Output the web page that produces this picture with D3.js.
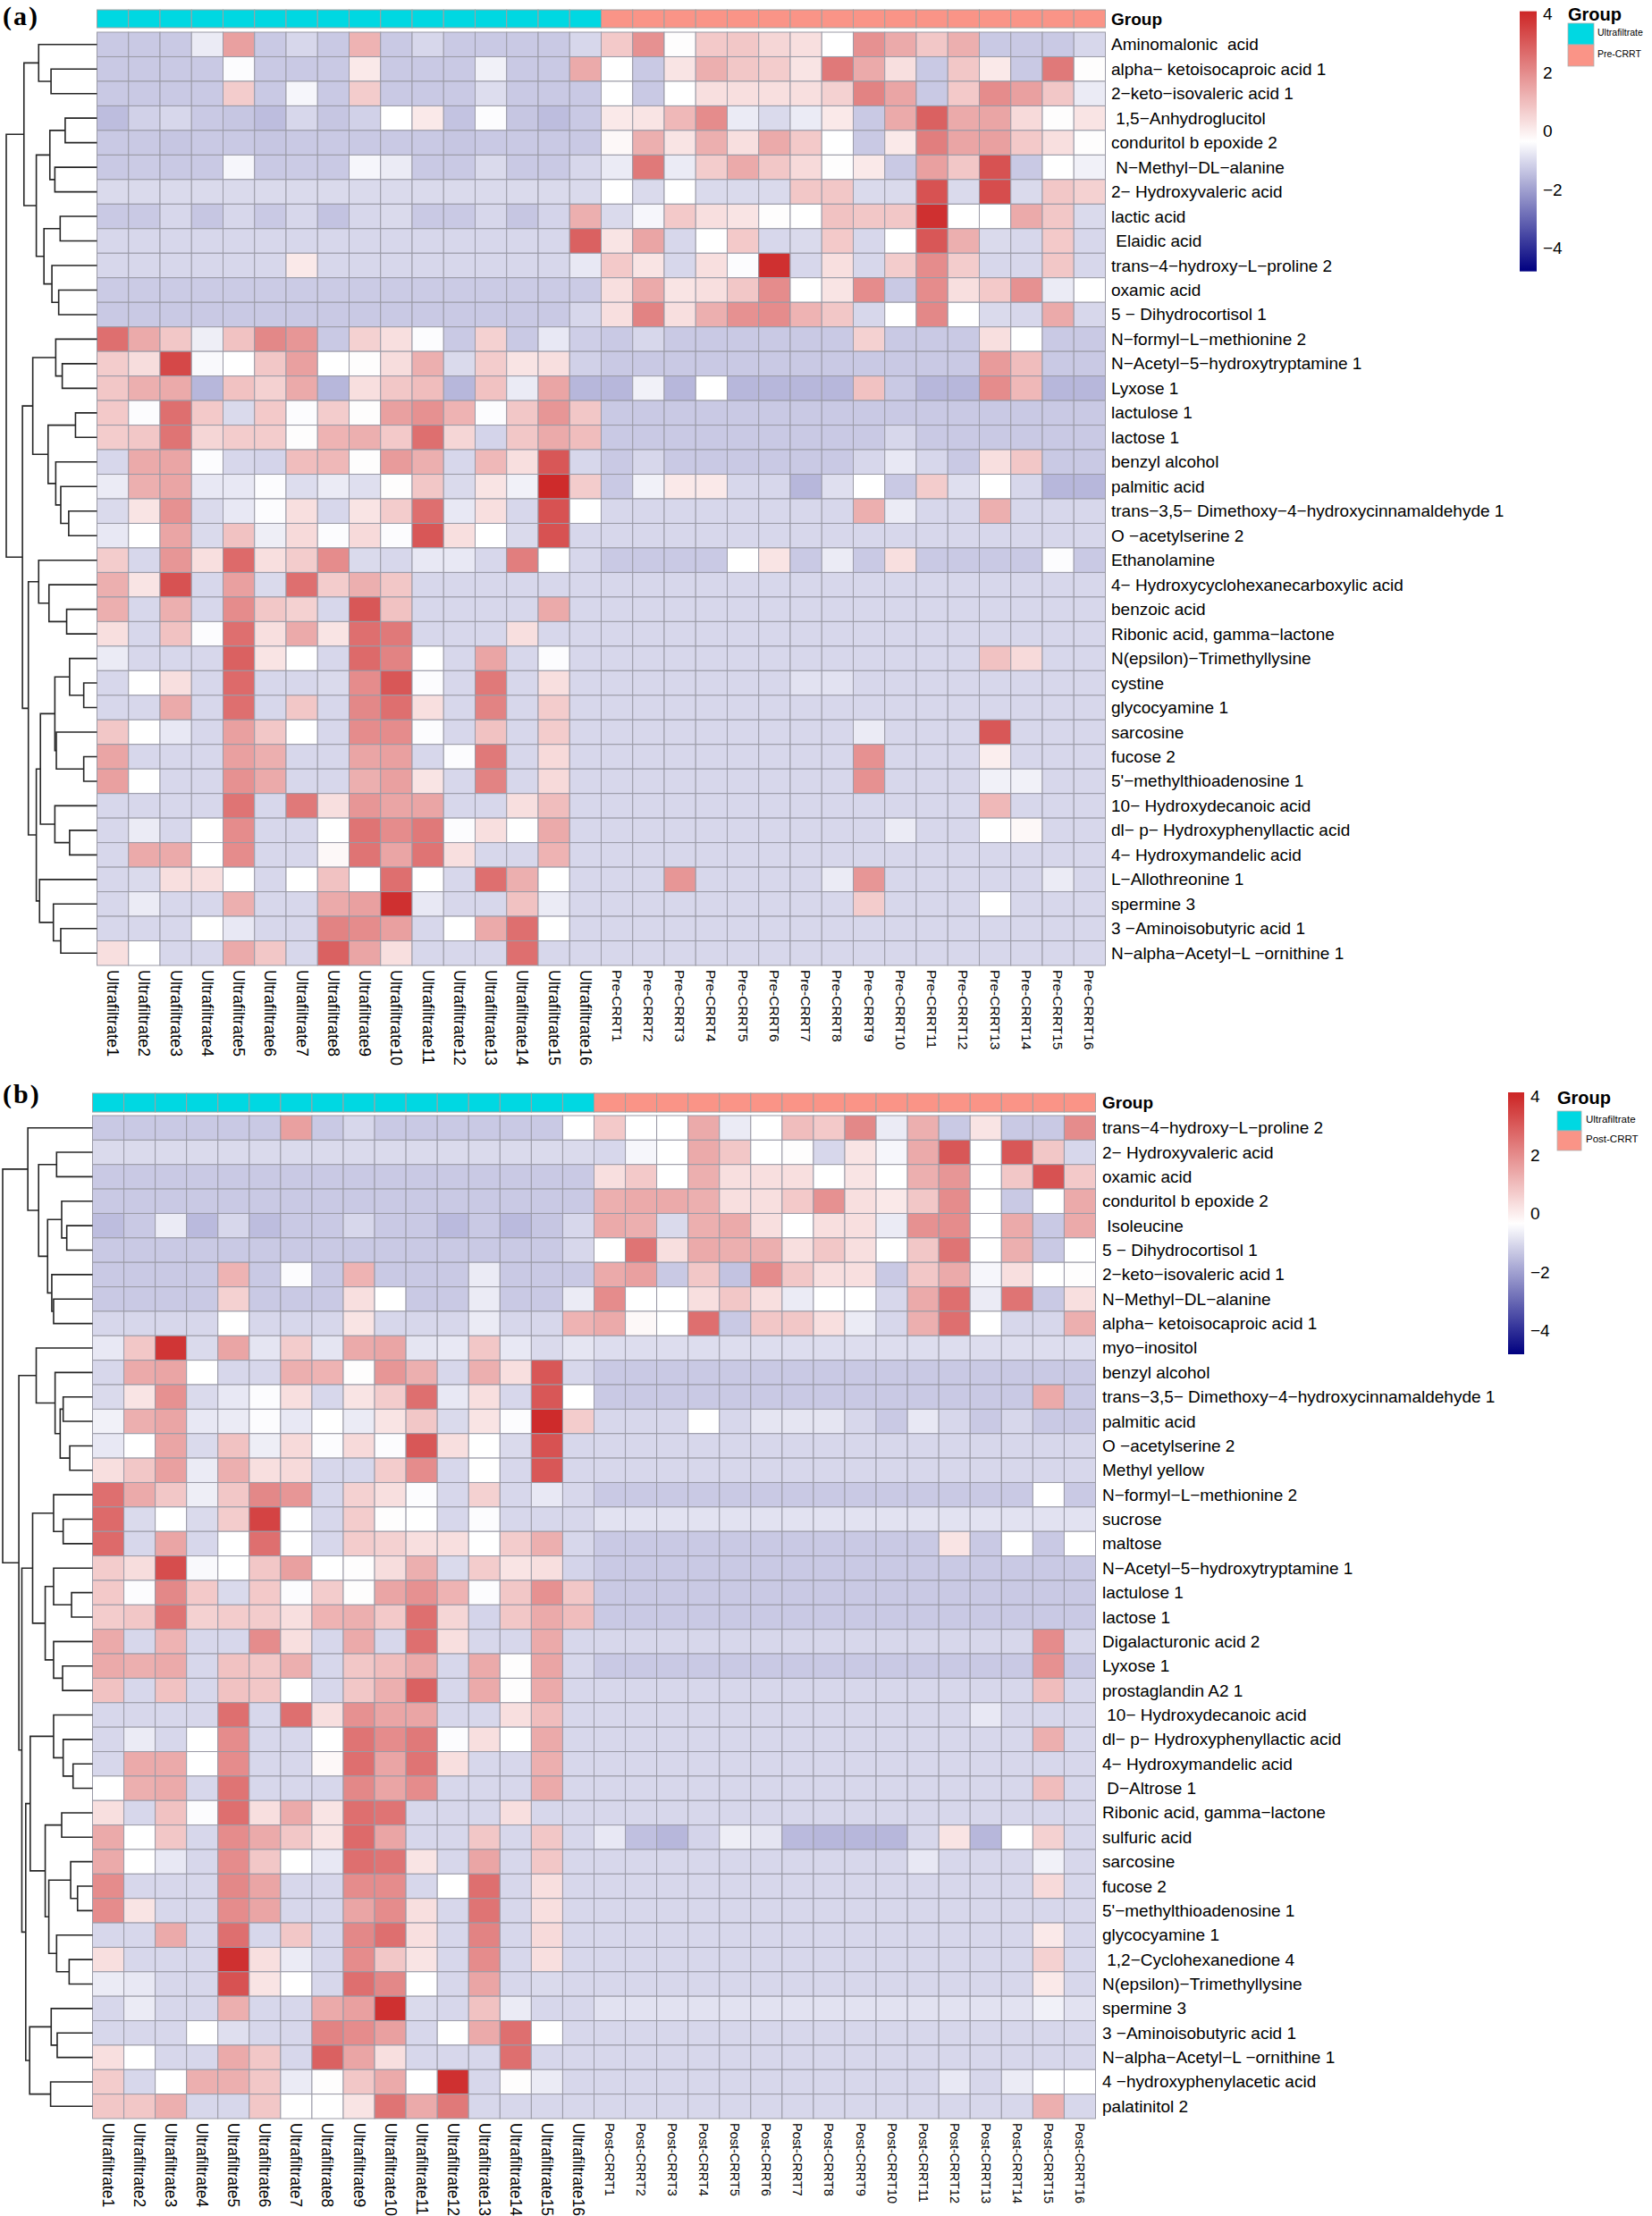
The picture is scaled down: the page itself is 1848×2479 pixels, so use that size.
<!DOCTYPE html>
<html><head><meta charset="utf-8">
<script src="https://cdn.jsdelivr.net/npm/d3@7"></script>
<style>
body{margin:0;background:#fff}
text{font-family:"Liberation Sans",Arial,sans-serif;white-space:pre}
</style></head>
<body><svg id="chart" width="1848" height="2479"></svg>
<script>
// ---------------- DATA ----------------
const ufNames = ["Ultrafiltrate1","Ultrafiltrate2","Ultrafiltrate3","Ultrafiltrate4","Ultrafiltrate5","Ultrafiltrate6","Ultrafiltrate7","Ultrafiltrate8","Ultrafiltrate9","Ultrafiltrate10","Ultrafiltrate11","Ultrafiltrate12","Ultrafiltrate13","Ultrafiltrate14","Ultrafiltrate15","Ultrafiltrate16"];
const preNames = ["Pre-CRRT1","Pre-CRRT2","Pre-CRRT3","Pre-CRRT4","Pre-CRRT5","Pre-CRRT6","Pre-CRRT7","Pre-CRRT8","Pre-CRRT9","Pre-CRRT10","Pre-CRRT11","Pre-CRRT12","Pre-CRRT13","Pre-CRRT14","Pre-CRRT15","Pre-CRRT16"];
const postNames = ["Post-CRRT1","Post-CRRT2","Post-CRRT3","Post-CRRT4","Post-CRRT5","Post-CRRT6","Post-CRRT7","Post-CRRT8","Post-CRRT9","Post-CRRT10","Post-CRRT11","Post-CRRT12","Post-CRRT13","Post-CRRT14","Post-CRRT15","Post-CRRT16"];

const rowsA = ["Aminomalonic  acid","alpha− ketoisocaproic acid 1","2−keto−isovaleric acid 1"," 1,5−Anhydroglucitol","conduritol b epoxide 2"," N−Methyl−DL−alanine","2− Hydroxyvaleric acid","lactic acid"," Elaidic acid","trans−4−hydroxy−L−proline 2","oxamic acid","5 − Dihydrocortisol 1","N−formyl−L−methionine 2","N−Acetyl−5−hydroxytryptamine 1","Lyxose 1","lactulose 1","lactose 1","benzyl alcohol","palmitic acid","trans−3,5− Dimethoxy−4−hydroxycinnamaldehyde 1","O −acetylserine 2","Ethanolamine","4− Hydroxycyclohexanecarboxylic acid","benzoic acid","Ribonic acid, gamma−lactone","N(epsilon)−Trimethyllysine","cystine","glycocyamine 1","sarcosine","fucose 2","5'−methylthioadenosine 1","10− Hydroxydecanoic acid","dl− p− Hydroxyphenyllactic acid","4− Hydroxymandelic acid","L−Allothreonine 1","spermine 3","3 −Aminoisobutyric acid 1","N−alpha−Acetyl−L −ornithine 1"];

const rowsB = ["trans−4−hydroxy−L−proline 2","2− Hydroxyvaleric acid","oxamic acid","conduritol b epoxide 2"," Isoleucine","5 − Dihydrocortisol 1","2−keto−isovaleric acid 1","N−Methyl−DL−alanine","alpha− ketoisocaproic acid 1","myo−inositol","benzyl alcohol","trans−3,5− Dimethoxy−4−hydroxycinnamaldehyde 1","palmitic acid","O −acetylserine 2","Methyl yellow","N−formyl−L−methionine 2","sucrose","maltose","N−Acetyl−5−hydroxytryptamine 1","lactulose 1","lactose 1","Digalacturonic acid 2","Lyxose 1","prostaglandin A2 1"," 10− Hydroxydecanoic acid","dl− p− Hydroxyphenyllactic acid","4− Hydroxymandelic acid"," D−Altrose 1","Ribonic acid, gamma−lactone","sulfuric acid","sarcosine","fucose 2","5'−methylthioadenosine 1","glycocyamine 1"," 1,2−Cyclohexanedione 4","N(epsilon)−Trimethyllysine","spermine 3","3 −Aminoisobutyric acid 1","N−alpha−Acetyl−L −ornithine 1","4 −hydroxyphenylacetic acid","palatinitol 2"];

// panel (a) values, Ultrafiltrate columns
const ufA = [
[-1.3,-1.3,-1.3,-0.7,1.6,-1.3,-1.05,-1.3,1.2,-1.3,-1.05,-1.3,-1.3,-1.3,-1.3,-1.05],
[-1.3,-1.3,-1.3,-1.3,-0.4,-1.3,-1.3,-1.3,0.1,-1.3,-1.3,-1.3,-0.6,-1.3,-1.3,1.4],
[-1.3,-1.3,-1.3,-1.3,0.7,-1.3,-0.5,-1.3,0.7,-1.3,-1.3,-1.3,-0.95,-1.3,-1.3,-1.3],
[-1.5,-1.15,-1.05,-1.3,-1.35,-1.5,-1.05,-1.35,-1.15,-0.35,0.1,-1.4,-0.4,-1.35,-1.5,-1.3],
[-1.3,-1.3,-1.35,-1.3,-1.3,-1.35,-1.3,-1.3,-1.3,-1.3,-1.3,-1.35,-1.3,-1.3,-1.3,-1.3],
[-1.3,-1.25,-1.3,-1.3,-0.5,-1.3,-1.25,-1.3,-0.5,-0.7,-1.3,-1.3,-1.0,-1.3,-1.3,-1.05],
[-1.0,-1.0,-1.0,-1.0,-1.0,-1.0,-1.0,-1.0,-1.0,-1.0,-1.0,-1.0,-1.0,-1.0,-1.0,-1.0],
[-1.3,-1.3,-1.05,-1.35,-1.05,-1.3,-1.05,-1.4,-1.05,-1.0,-1.3,-1.3,-1.05,-1.35,-1.1,1.3],
[-1.05,-1.05,-1.05,-1.05,-1.05,-1.05,-1.05,-1.05,-1.05,-1.05,-1.05,-1.05,-1.05,-1.05,-1.05,2.9],
[-1.05,-1.05,-1.05,-1.05,-1.05,-1.05,0.1,-1.05,-1.05,-1.05,-1.05,-1.05,-1.05,-1.05,-1.05,-0.75],
[-1.25,-1.25,-1.25,-1.25,-1.25,-1.25,-1.25,-1.25,-1.25,-1.25,-1.25,-1.25,-1.25,-1.25,-1.25,-1.25],
[-1.3,-1.3,-1.3,-1.3,-1.3,-1.3,-1.3,-1.3,-1.3,-1.3,-1.3,-1.3,-1.3,-1.3,-1.3,-1.05],
[2.6,1.4,0.8,-0.65,0.9,2.1,1.8,-1.3,0.6,0.3,-0.4,-1.3,0.6,-1.3,-0.75,-1.2],
[0.7,0.35,3.4,-0.45,-0.35,0.8,1.6,-0.35,-0.3,0.35,1.3,-1.0,0.7,0.2,0.3,-1.15],
[0.8,1.3,1.4,-1.6,0.9,0.6,1.4,-1.6,0.3,0.8,1.0,-1.6,0.9,-0.7,1.5,-1.6],
[0.75,-0.4,2.6,0.75,-1.0,0.75,-0.4,0.7,-0.3,1.6,1.9,1.2,-0.4,0.8,1.8,0.8],
[0.7,0.8,2.5,0.5,0.7,0.7,-0.3,1.2,1.3,0.75,2.6,0.5,-1.1,0.8,1.4,1.0],
[-1.05,1.4,1.5,-0.4,-1.05,-1.1,1.0,1.1,-0.3,1.7,1.3,-1.05,1.1,0.3,3.1,-1.05],
[-0.7,1.3,1.5,-0.75,-0.75,-0.4,-0.95,-0.7,-0.9,-0.3,0.8,-1.0,0.2,-0.6,4.0,0.7],
[-1.0,0.2,1.9,-1.0,-0.75,-0.4,0.3,-1.05,0.2,0.7,2.6,-0.75,0.3,-1.05,3.2,-0.35],
[-0.75,-0.35,1.5,-1.0,0.9,-0.65,0.4,-0.4,0.4,-0.4,3.1,0.3,-0.35,-1.0,3.2,-1.05],
[0.7,-1.05,1.8,0.3,2.7,0.3,0.7,2.0,-1.0,-1.05,-0.75,-0.75,-1.05,2.3,-0.35,-1.05],
[1.3,0.2,3.2,-1.05,1.6,-1.0,2.6,0.7,1.3,0.8,-1.05,-1.05,-1.05,-1.05,-1.05,-1.05],
[1.3,-1.05,1.3,-1.05,2.0,0.8,0.6,-1.05,3.1,0.9,-1.05,-1.05,-1.05,-1.05,1.4,-1.05],
[0.3,-1.05,0.9,-0.4,2.6,0.3,1.4,0.2,2.6,2.4,-1.05,-1.05,-1.05,0.3,-1.05,-1.05],
[-0.7,-1.05,-1.05,-1.05,2.9,0.2,-0.35,-1.05,2.7,2.2,-0.35,-1.05,1.5,-1.05,-0.4,-1.05],
[-1.05,-0.35,0.3,-1.05,2.7,-1.05,-1.05,-1.0,2.0,3.1,-0.4,-1.05,2.4,-1.05,0.3,-1.05],
[-1.05,-1.05,1.4,-1.05,2.6,-1.05,0.8,-1.05,2.1,2.6,0.3,-1.05,2.2,-1.05,0.7,-1.05],
[0.8,-0.35,-0.75,-1.05,1.6,0.8,-0.35,-1.05,2.0,2.0,-0.4,-1.05,0.9,-1.05,0.7,-1.05],
[1.5,-1.05,-1.05,-1.05,1.6,1.3,-1.05,-1.05,1.5,1.6,-1.05,-0.4,2.4,-1.05,0.4,-1.05],
[1.6,-0.35,-1.05,-1.05,1.9,1.4,-1.05,-1.05,1.3,1.6,0.2,-1.05,2.2,-1.05,0.4,-1.05],
[-1.05,-1.05,-1.05,-1.05,2.5,-1.05,2.4,0.3,1.8,1.5,1.5,-1.05,-1.05,0.3,1.0,-1.05],
[-1.05,-0.7,-1.05,-0.35,2.0,-1.05,-1.05,-0.35,2.5,2.0,2.4,-0.4,0.3,-0.35,1.4,-1.05],
[-1.05,1.4,1.4,-0.35,2.0,-1.05,-1.05,-0.2,2.5,1.5,2.5,0.3,-1.05,-1.05,1.2,-1.05],
[-1.05,-1.0,0.3,0.3,-0.35,-1.05,-0.35,0.9,-0.35,2.6,-0.35,-1.05,2.6,1.3,-0.35,-1.05],
[-1.05,-0.7,-1.05,-1.05,1.3,-1.05,-1.05,1.4,1.6,3.9,-0.75,-1.05,-1.05,0.9,-0.7,-1.05],
[-1.05,-1.05,-1.05,-0.35,-0.75,-1.05,-1.05,2.2,2.0,1.6,-1.05,-0.35,1.4,2.6,-0.35,-1.05],
[0.3,-0.35,-1.05,-1.05,1.4,0.8,-1.05,2.9,1.5,0.3,-1.05,-1.05,-1.05,2.6,-1.05,-1.05]
];

// panel (a) values, Pre-CRRT columns
const preA = [
[0.75,1.9,-0.3,0.75,0.8,0.5,0.3,-0.35,1.9,1.4,0.8,1.3,-1.3,-1.3,-1.3,-1.05],
[-0.35,-1.3,0.2,1.3,0.8,0.7,0.2,2.4,1.4,0.3,-1.3,0.8,0.1,-1.3,2.4,-0.3],
[-0.35,-1.3,-0.35,0.3,0.3,0.3,0.3,0.6,2.2,1.5,-1.3,0.75,2.0,1.6,0.8,-0.7],
[0.1,0.2,1.1,2.0,-0.7,-1.0,-0.7,0.1,-1.3,1.4,2.9,1.4,1.5,0.4,-0.3,0.2],
[-0.2,1.3,0.2,1.3,0.3,1.4,0.75,-0.35,-1.3,0.1,2.3,1.5,1.6,0.75,0.3,-0.3],
[-0.7,2.4,-0.7,0.7,1.4,0.8,0.4,-0.3,0.1,-1.3,1.6,0.8,3.2,-1.3,-0.35,-0.6],
[-0.35,-1.0,-0.35,-1.0,-1.0,-1.0,0.8,0.8,-1.0,-1.0,3.2,-1.0,3.3,-1.0,0.8,0.6],
[-1.0,-0.5,0.75,0.3,0.2,-0.3,-0.35,0.9,0.8,0.8,3.9,-0.35,-0.35,1.4,0.8,-1.0],
[0.2,1.5,-1.05,-0.35,0.75,-1.05,-1.0,0.75,-1.05,-0.35,3.1,1.3,-1.0,-1.05,0.75,-1.05],
[0.75,0.2,-1.05,0.3,-0.4,3.9,-1.05,0.3,-1.05,0.7,2.0,0.7,-1.05,-1.05,0.8,-1.05],
[0.3,1.4,0.2,0.3,0.8,2.0,-0.35,0.2,2.0,-1.3,2.0,0.3,0.75,1.9,-0.7,-0.35],
[0.3,2.2,0.3,1.3,1.9,2.0,1.2,0.8,-1.05,-0.35,2.1,-0.35,-1.0,-1.05,1.4,-1.05],
[-1.3,-1.05,-1.3,-1.3,-1.3,-1.3,-1.3,-1.3,0.6,-1.3,-1.3,-1.3,0.3,-0.35,-1.3,-1.3],
[-1.3,-1.3,-1.3,-1.3,-1.3,-1.3,-1.3,-1.3,-1.3,-1.3,-1.3,-1.3,1.7,1.0,-1.3,-1.3],
[-1.6,-0.6,-1.6,-0.35,-1.6,-1.6,-1.6,-1.6,0.9,-1.3,-1.6,-1.6,2.0,1.1,-1.6,-1.6],
[-1.3,-1.3,-1.3,-1.3,-1.3,-1.3,-1.3,-1.3,-1.3,-1.3,-1.3,-1.3,-1.3,-1.3,-1.3,-1.3],
[-1.3,-1.3,-1.3,-1.3,-1.3,-1.3,-1.3,-1.3,-1.3,-1.05,-1.3,-1.3,-1.3,-1.3,-1.3,-1.3],
[-1.3,-1.05,-1.3,-1.3,-1.3,-1.3,-1.3,-1.3,-1.05,-0.75,-1.05,-1.3,0.3,0.8,-1.3,-1.3],
[-1.3,-0.6,0.1,0.1,-1.05,-1.05,-1.6,-0.9,-0.35,-1.3,0.7,-0.9,-0.35,-1.05,-1.6,-1.6],
[-1.05,-1.05,-1.05,-1.05,-1.05,-1.05,-1.05,-1.05,1.3,-0.7,-1.05,-1.05,1.3,-1.05,-1.05,-1.05],
[-1.05,-1.05,-1.05,-1.05,-1.05,-1.05,-1.05,-1.05,-1.05,-1.05,-1.05,-1.05,-1.05,-1.05,-1.05,-1.05],
[-1.3,-1.3,-1.3,-1.3,-0.35,0.2,-1.3,-0.7,-1.3,0.3,-1.3,-1.3,-1.3,-1.3,-0.4,-1.3],
[-1.05,-1.05,-1.05,-1.05,-1.05,-1.05,-1.05,-1.05,-1.05,-1.05,-1.05,-1.05,-1.05,-1.05,-1.05,-1.05],
[-1.05,-1.05,-1.05,-1.05,-1.05,-1.05,-1.05,-1.05,-1.05,-1.05,-1.05,-1.05,-1.05,-1.05,-1.05,-1.05],
[-1.05,-1.05,-1.05,-1.05,-1.05,-1.05,-1.05,-1.05,-1.05,-1.05,-1.05,-1.05,-1.05,-1.05,-1.05,-1.05],
[-1.05,-1.05,-1.05,-1.05,-1.05,-1.05,-1.05,-1.05,-1.05,-1.05,-1.05,-1.05,0.9,0.4,-1.05,-1.05],
[-1.05,-1.05,-1.05,-1.05,-1.05,-1.05,-0.85,-0.85,-1.05,-1.05,-1.05,-1.05,-1.05,-1.05,-1.05,-1.05],
[-1.05,-1.05,-1.05,-1.05,-1.05,-1.05,-1.05,-1.05,-1.05,-1.05,-1.05,-1.05,-1.05,-1.05,-1.05,-1.05],
[-1.05,-1.05,-1.05,-1.05,-1.05,-1.05,-1.05,-1.05,-0.7,-1.05,-1.05,-1.05,3.1,-1.05,-1.05,-1.05],
[-1.05,-1.05,-1.05,-1.05,-1.05,-1.05,-1.05,-1.05,1.9,-1.05,-1.05,-1.05,0.0,-1.05,-1.05,-1.05],
[-1.05,-1.05,-1.05,-1.05,-1.05,-1.05,-1.05,-1.05,1.9,-1.05,-1.05,-1.05,-0.6,-0.6,-1.05,-1.05],
[-1.05,-1.05,-1.05,-1.05,-1.05,-1.05,-1.05,-1.05,-1.05,-1.05,-1.05,-1.05,1.1,-1.05,-1.05,-1.05],
[-1.05,-1.05,-1.05,-1.05,-1.05,-1.05,-1.05,-1.05,-1.05,-0.7,-1.05,-1.05,-0.35,-0.2,-1.05,-1.05],
[-1.05,-1.05,-1.05,-1.05,-1.05,-1.05,-1.05,-1.05,-1.05,-1.05,-1.05,-1.05,-1.05,-1.05,-1.05,-1.05],
[-1.05,-1.05,1.8,-1.05,-1.05,-1.05,-1.05,-0.7,1.8,-1.05,-1.05,-1.05,-1.05,-1.05,-0.7,-1.05],
[-1.05,-1.05,-1.05,-1.05,-1.05,-1.05,-1.05,-1.05,0.7,-1.05,-1.05,-1.05,-0.35,-1.05,-1.05,-1.05],
[-1.05,-1.05,-1.05,-1.05,-1.05,-1.05,-1.05,-1.05,-1.05,-1.05,-1.05,-1.05,-1.05,-1.05,-1.05,-1.05],
[-1.05,-1.05,-1.05,-1.05,-1.05,-1.05,-1.05,-1.05,-1.05,-1.05,-1.05,-1.05,-1.05,-1.05,-1.05,-1.05]
];

// panel (b) values, Ultrafiltrate columns
const ufB = [
[-1.3,-1.3,-1.3,-1.3,-1.3,-1.3,1.6,-1.3,-1.05,-1.3,-1.3,-1.3,-1.3,-1.3,-1.3,-0.35],
[-1.0,-1.0,-1.0,-1.0,-1.0,-1.0,-1.0,-1.0,-1.0,-1.0,-1.0,-1.0,-1.0,-1.0,-1.0,-1.0],
[-1.3,-1.3,-1.3,-1.3,-1.3,-1.3,-1.3,-1.3,-1.3,-1.3,-1.3,-1.3,-1.3,-1.3,-1.3,-1.3],
[-1.3,-1.3,-1.3,-1.3,-1.3,-1.3,-1.3,-1.3,-1.3,-1.3,-1.3,-1.3,-1.3,-1.3,-1.3,-1.3],
[-1.5,-1.3,-0.7,-1.55,-1.05,-1.5,-1.3,-1.3,-1.05,-1.3,-1.3,-1.55,-1.3,-1.55,-1.35,-1.05],
[-1.3,-1.3,-1.3,-1.3,-1.3,-1.3,-1.3,-1.3,-1.3,-1.3,-1.3,-1.3,-1.3,-1.3,-1.3,-1.05],
[-1.3,-1.3,-1.3,-1.3,1.2,-1.3,-0.4,-1.3,1.2,-1.3,-1.3,-1.3,-0.7,-1.3,-1.3,-1.3],
[-1.3,-1.3,-1.3,-1.3,0.6,-1.3,-1.3,-1.3,0.3,-0.35,-1.3,-1.3,-0.7,-1.3,-1.3,-0.7],
[-1.05,-1.05,-1.05,-1.05,-0.35,-1.05,-1.05,-1.05,0.2,-1.05,-1.05,-1.05,-0.7,-1.05,-1.05,1.2],
[-0.75,0.8,3.8,-1.0,1.5,-0.8,0.7,-0.8,1.4,1.5,-0.8,-0.75,0.8,-0.75,-1.0,-0.8],
[-1.05,1.4,1.5,-0.35,-1.05,-1.05,1.3,1.2,-0.3,1.8,1.3,-1.05,1.3,0.3,3.1,-1.05],
[-1.0,0.2,1.9,-1.0,-0.75,-0.4,0.3,-1.05,0.2,0.7,2.6,-0.75,0.3,-1.05,3.1,-0.35],
[-0.6,1.3,1.5,-0.75,-0.7,-0.4,-0.75,-0.35,-0.7,0.2,0.8,-1.0,0.2,-0.4,4.0,0.7],
[-0.75,-0.35,1.5,-1.0,0.9,-0.65,0.4,-0.4,0.4,-0.4,3.1,0.3,-0.35,-1.0,3.2,-1.05],
[0.3,0.8,1.6,-0.7,1.3,0.3,0.4,-1.05,-1.05,0.7,2.0,-1.05,-0.35,-1.05,3.1,-1.05],
[2.6,1.4,0.8,-0.65,0.8,2.1,1.8,-1.05,0.6,0.3,-0.4,-1.05,0.6,-1.05,-0.75,-1.05],
[2.7,-1.0,-0.35,-1.0,0.7,3.5,-0.35,-1.05,0.7,-0.3,-0.35,-1.05,-0.4,-1.05,-1.05,-1.05],
[2.7,-1.05,1.5,-1.05,-0.35,2.6,-0.35,-1.05,0.7,0.6,0.3,0.3,-0.35,0.7,1.3,-1.05],
[0.7,0.35,3.3,-0.45,-0.35,0.8,1.6,-0.35,-0.3,0.35,1.3,-1.0,0.7,0.2,0.3,-1.1],
[0.75,-0.4,2.1,0.75,-1.0,0.75,-0.4,0.7,-0.3,1.5,1.9,1.2,-0.4,0.8,1.9,0.8],
[0.7,0.8,2.5,0.6,0.7,0.7,0.3,1.2,1.3,0.75,2.6,0.5,-1.1,0.8,1.4,1.0],
[1.4,-1.05,1.2,-1.05,-1.05,2.0,0.3,-1.05,1.4,-1.05,2.6,0.3,-1.05,-1.05,1.4,-1.05],
[1.4,1.3,1.4,-1.05,0.9,0.8,1.3,-1.05,0.8,1.0,1.4,-1.05,1.4,-0.3,1.5,-1.05],
[0.9,-1.05,0.9,-1.05,0.9,0.8,-0.35,-1.05,0.8,1.3,2.9,-1.05,1.4,-0.3,1.4,-1.05],
[-1.05,-1.05,-1.05,-1.05,2.6,-1.05,2.6,0.3,1.9,1.5,1.5,-1.05,-1.05,0.3,1.0,-1.05],
[-1.05,-0.7,-1.05,-0.35,2.0,-1.05,-1.05,-0.35,2.5,2.0,2.4,-0.4,0.3,-0.35,1.4,-1.05],
[-1.05,1.4,1.4,-0.35,2.0,-1.05,-1.05,-0.2,2.6,1.5,2.5,0.3,-1.05,-1.05,1.3,-1.05],
[-0.35,1.3,1.4,-1.05,2.5,-1.05,-1.05,-1.05,2.1,1.5,2.0,-1.05,-1.05,-1.05,1.4,-1.05],
[0.3,-1.05,0.9,-0.4,2.6,0.3,1.4,0.2,2.6,2.5,-1.05,-1.05,-1.05,0.3,-1.05,-1.05],
[1.4,-0.35,0.8,-1.05,2.0,1.4,0.8,0.2,2.7,1.5,-1.05,-1.05,0.8,-1.05,0.8,-1.05],
[1.4,-0.35,-0.75,-1.05,2.0,0.8,-0.35,-0.75,2.6,2.5,0.2,-1.05,1.5,-1.05,0.8,-1.05],
[2.0,-1.05,-1.05,-1.05,2.1,1.5,-1.05,-1.05,2.0,2.0,-1.05,-0.35,2.6,-1.05,0.3,-1.05],
[2.0,0.2,-1.05,-1.05,2.0,1.5,-1.05,-1.05,1.5,2.0,0.3,-1.05,2.5,-1.05,0.3,-1.05],
[-1.05,-1.05,1.4,-1.05,2.6,-1.05,0.8,-1.05,2.1,2.6,0.3,-1.05,2.2,-1.05,0.4,-1.05],
[0.3,-1.05,-1.05,-1.05,3.9,0.3,-0.7,-1.05,2.0,0.8,0.2,-1.05,2.0,-1.05,0.3,-1.05],
[-0.7,-0.75,-1.05,-1.05,3.2,0.2,-0.35,-1.05,2.6,2.1,-0.35,-1.05,1.5,-1.05,-1.0,-1.05],
[-1.05,-0.7,-1.05,-1.05,1.3,-1.05,-1.05,1.4,1.6,3.9,-1.0,-1.05,0.9,-0.7,-1.05,-1.05],
[-1.05,-1.05,-1.05,-0.35,-0.9,-1.05,-1.05,2.2,2.0,1.6,-1.05,-0.35,1.4,2.6,-0.35,-1.05],
[0.3,-0.35,-1.05,-1.05,1.4,0.8,-1.05,2.9,1.5,0.3,-1.05,-1.05,-1.05,2.6,-1.05,-1.05],
[0.7,-1.05,-0.35,1.3,1.3,0.8,-0.7,-0.3,0.8,1.4,-0.35,3.9,-1.05,-0.3,-0.7,-1.05],
[0.8,0.8,1.3,-1.05,-1.05,0.8,-0.35,-0.35,0.2,2.5,1.4,2.4,-1.05,-1.05,-1.05,-1.05]
];

// panel (b) values, Post-CRRT columns
const postB = [
[0.75,-0.35,-0.35,1.4,-0.7,-0.35,1.0,0.75,2.1,-0.7,1.3,-1.3,0.2,-1.3,-1.3,2.0],
[-1.05,-0.5,-0.35,1.4,0.8,-0.35,-0.3,-1.05,0.2,-0.5,1.4,3.1,-0.35,3.1,0.8,-1.05],
[0.3,0.75,-0.35,1.3,0.3,0.3,0.3,-0.35,0.2,-0.35,1.3,1.8,-0.35,0.8,3.2,0.75],
[1.3,1.4,1.4,1.3,0.3,0.3,0.75,1.9,0.3,0.1,0.8,2.0,-0.35,-1.3,-0.35,1.4],
[1.4,1.3,-1.0,1.3,1.4,0.3,-0.35,0.3,0.3,-0.7,1.9,2.0,-0.35,1.4,-1.3,1.4],
[-0.35,2.5,0.3,1.4,1.3,1.3,0.3,0.8,0.3,-0.35,0.8,2.5,-0.35,1.3,-1.3,-0.35],
[1.4,1.6,-1.3,0.8,-1.4,2.0,0.8,0.3,0.3,-1.3,0.8,1.4,-0.5,0.3,-0.35,-0.3],
[2.0,-0.35,-0.35,0.3,0.8,0.3,-0.7,-0.35,-0.35,-1.05,1.4,2.6,-0.7,2.5,-1.3,0.3],
[1.4,-0.2,-0.35,2.6,-1.3,0.8,0.8,0.3,-0.7,-1.05,1.3,2.6,-0.35,-1.05,-1.05,1.3],
[-0.95,-0.95,-0.95,-0.95,-0.95,-0.95,-0.95,-0.95,-0.95,-0.95,-0.95,-0.95,-0.95,-0.95,-0.95,-0.95],
[-1.3,-1.3,-1.3,-1.3,-1.3,-1.3,-1.3,-1.3,-1.3,-1.3,-1.3,-1.3,-1.3,-1.3,-1.3,-1.3],
[-1.3,-1.3,-1.3,-1.3,-1.3,-1.3,-1.3,-1.3,-1.3,-1.3,-1.3,-1.3,-1.3,-1.3,1.4,-1.3],
[-1.05,-1.05,-1.05,-0.35,-1.05,-0.8,-0.8,-0.8,-1.05,-1.3,-0.75,-1.05,-1.3,-1.05,-1.3,-1.3],
[-1.05,-1.05,-1.05,-1.05,-1.05,-1.05,-1.05,-1.05,-1.05,-1.05,-1.05,-1.05,-1.05,-1.05,-1.05,-1.05],
[-1.05,-1.05,-1.05,-1.05,-1.05,-1.05,-1.05,-1.05,-1.05,-1.05,-1.05,-1.05,-1.05,-1.05,-1.05,-1.05],
[-1.3,-1.3,-1.3,-1.3,-1.3,-1.3,-1.3,-1.3,-1.3,-1.3,-1.3,-1.3,-1.3,-1.3,-0.35,-1.3],
[-0.85,-0.85,-0.85,-0.85,-0.85,-0.85,-0.85,-0.85,-0.85,-0.85,-0.85,-0.85,-0.85,-0.85,-0.85,-0.85],
[-1.3,-1.3,-1.3,-1.3,-1.3,-1.3,-1.3,-1.3,-1.3,-1.3,-1.3,0.2,-1.3,-0.35,-1.3,-0.35],
[-1.3,-1.3,-1.3,-1.3,-1.3,-1.3,-1.3,-1.3,-1.3,-1.3,-1.3,-1.3,-1.3,-1.3,-1.3,-1.3],
[-1.3,-1.3,-1.3,-1.3,-1.3,-1.3,-1.3,-1.3,-1.3,-1.3,-1.3,-1.3,-1.3,-1.3,-1.3,-1.3],
[-1.3,-1.3,-1.3,-1.3,-1.3,-1.3,-1.3,-1.3,-1.3,-1.3,-1.3,-1.3,-1.3,-1.3,-1.3,-1.3],
[-1.05,-1.05,-1.05,-1.05,-1.05,-1.05,-1.05,-1.05,-1.05,-1.05,-1.05,-1.05,-1.05,-1.05,2.0,-1.05],
[-1.3,-1.3,-1.3,-1.3,-1.3,-1.3,-1.3,-1.3,-1.3,-1.3,-1.3,-1.3,-1.3,-1.3,1.9,-1.3],
[-1.05,-1.05,-1.05,-1.05,-1.05,-1.05,-1.05,-1.05,-1.05,-1.05,-1.05,-1.05,-1.05,-1.05,1.0,-1.05],
[-1.05,-1.05,-1.05,-1.05,-1.05,-1.05,-1.05,-1.05,-1.05,-1.05,-1.05,-1.05,-0.75,-1.05,-1.05,-1.05],
[-1.05,-1.05,-1.05,-1.05,-1.05,-1.05,-1.05,-1.05,-1.05,-1.05,-1.05,-1.05,-1.05,-1.05,1.3,-1.05],
[-1.05,-1.05,-1.05,-1.05,-1.05,-1.05,-1.05,-1.05,-1.05,-1.05,-1.05,-1.05,-1.05,-1.05,-1.05,-1.05],
[-1.05,-1.05,-1.05,-1.05,-1.05,-1.05,-1.05,-1.05,-1.05,-1.05,-1.05,-1.05,-1.05,-1.05,1.0,-1.05],
[-1.05,-1.05,-1.05,-1.05,-1.05,-1.05,-1.05,-1.05,-1.05,-1.05,-1.05,-1.05,-1.05,-1.05,-1.05,-1.05],
[-0.75,-1.45,-1.6,-1.1,-0.65,-0.8,-1.55,-1.6,-1.6,-1.6,-1.05,0.2,-1.6,-0.35,0.6,-1.05],
[-1.05,-1.05,-1.05,-1.05,-1.05,-1.05,-1.05,-1.05,-1.05,-1.05,-0.75,-1.05,-1.05,-1.05,-0.6,-1.05],
[-1.05,-1.05,-1.05,-1.05,-1.05,-1.05,-1.05,-1.05,-1.05,-1.05,-1.05,-1.05,-1.05,-1.05,0.4,-1.05],
[-1.05,-1.05,-1.05,-1.05,-1.05,-1.05,-1.05,-1.05,-1.05,-1.05,-1.05,-1.05,-1.05,-1.05,-1.05,-1.05],
[-1.05,-1.05,-1.05,-1.05,-1.05,-1.05,-1.05,-1.05,-1.05,-1.05,-1.05,-1.05,-1.05,-1.05,0.1,-1.05],
[-1.05,-1.05,-1.05,-1.05,-1.05,-1.05,-1.05,-1.05,-1.05,-1.05,-1.05,-1.05,-1.05,-1.05,0.6,-1.05],
[-1.05,-1.05,-1.05,-1.05,-1.05,-1.05,-1.05,-1.05,-1.05,-1.05,-1.05,-1.05,-1.05,-1.05,0.1,-1.05],
[-0.85,-0.85,-0.85,-0.85,-0.85,-0.85,-0.85,-0.85,-0.85,-0.85,-0.85,-0.85,-0.85,-0.85,-0.6,-0.85],
[-1.05,-1.05,-1.05,-1.05,-1.05,-1.05,-1.05,-1.05,-1.05,-1.05,-1.05,-1.05,-1.05,-1.05,-1.05,-1.05],
[-1.05,-1.05,-1.05,-1.05,-1.05,-1.05,-1.05,-1.05,-1.05,-1.05,-1.05,-1.05,-1.05,-1.05,-1.05,-1.05],
[-1.05,-1.05,-1.05,-1.05,-1.05,-1.05,-1.05,-1.05,-1.05,-1.05,-1.05,-0.75,-1.05,-0.7,-0.35,-0.35],
[-1.05,-1.05,-1.05,-1.05,-1.05,-1.05,-1.05,-1.05,-1.05,-1.05,-1.05,-1.05,-1.05,-1.05,1.3,-1.05]
];

// row dendrograms: [height, left, right]; leaves are row indices
const treeA = [308,
  [248,[198,0,[156,1,2]],[206,[160,[108,3,4],[143,5,6]],[180,[125,7,8],[153,9,[130,10,11]]]]],
  [253,[218,[140,12,[118,13,14]],[166,[73,15,16],[140,17,[123,18,[96,19,20]]]]],
       [233,[198,21,[163,22,[103,23,24]]],
            [206,[192,[143,[93,25,[45,26,27]],[138,28,[45,29,30]]],[143,31,[93,32,33]]],
                 [195,34,[148,35,[123,36,37]]]]]]];
const treeB = [300,
  [216,0,[180,[120,1,2],[150,[103,3,[86,4,5]],[136,6,[130,7,8]]]]],
  [246,[188,9,[125,10,[108,[98,11,12],[76,13,14]]]],
       [236,[200,[130,15,[98,16,17]],[158,[130,18,[70,19,20]],[130,21,[100,22,23]]]],
            [223,[208,[130,24,[98,25,[65,26,27]]],[158,[103,28,29],[146,[73,30,[50,31,32]],[120,33,[78,34,35]]]]],
                 [210,[138,36,[118,37,38]],[140,39,40]]]]]];

const legendTicks = [4, 2, 0, -2, -4];
const groupNames = ["Ultrafiltrate", "Pre-CRRT", "Post-CRRT"];

// ---------------- STYLE ----------------
const groupColor = {"Ultrafiltrate":"#00D8E2","Pre-CRRT":"#FA9487","Post-CRRT":"#FA9487"};
const color = d3.scaleLinear().domain([-4.8,-0.35,4.1]).range(["#000080","#ffffff","#CD2626"]).interpolate(d3.interpolateRgb).clamp(true);
const svg = d3.select("#chart");

function panel(cfg){
  const g = svg.append("g");
  const cols = cfg.uf.concat(cfg.other);
  const x = d3.scaleBand().domain(cols).range([cfg.x0, cfg.x1]);
  const y = d3.scaleBand().domain(d3.range(cfg.rows.length)).range([cfg.y0, cfg.y1]);
  // annotation
  g.selectAll("rect.ann").data(cols).join("rect")
    .attr("x", d=>x(d)).attr("y", cfg.annY0).attr("width", x.bandwidth()).attr("height", cfg.annY1-cfg.annY0)
    .attr("fill", (d,i)=> i<16 ? groupColor["Ultrafiltrate"] : groupColor[cfg.otherGroup])
    .attr("stroke","#a0a0a0").attr("stroke-width",1);
  g.append("text").attr("x", cfg.labelX).attr("y",(cfg.annY0+cfg.annY1)/2).attr("dominant-baseline","central")
    .attr("font-size",19).attr("font-weight","bold").text("Group");
  // cells
  const cells = [];
  cfg.rows.forEach((r,ri)=>{
    cfg.ufVals[ri].forEach((v,ci)=>cells.push({r:ri,c:cfg.uf[ci],v}));
    cfg.otherVals[ri].forEach((v,ci)=>cells.push({r:ri,c:cfg.other[ci],v}));
  });
  g.selectAll("rect.cell").data(cells).join("rect")
    .attr("x", d=>x(d.c)).attr("y", d=>y(d.r)).attr("width", x.bandwidth()).attr("height", y.bandwidth())
    .attr("fill", d=>color(d.v)).attr("stroke","#9a9aa6").attr("stroke-width",1);
  // row labels
  g.selectAll("text.row").data(cfg.rows).join("text")
    .attr("x", cfg.labelX).attr("y",(d,i)=>y(i)+y.bandwidth()/2).attr("dominant-baseline","central")
    .attr("font-size",19).text(d=>d);
  // column labels
  g.selectAll("text.col").data(cols).join("text")
    .attr("transform", d=>`translate(${x(d)+x.bandwidth()/2},${cfg.y1+5}) rotate(90)`)
    .attr("dominant-baseline","central")
    .attr("font-size",(d,i)=> i<16 ? cfg.ufFont : cfg.otherFont).text(d=>d);
  // dendrogram
  const hx = d3.scaleLinear().domain([0,cfg.tree[0]]).range([cfg.x0, cfg.dendX]);
  const paths = [];
  function walk(n){
    if (typeof n === "number") return {x:hx(0), y:y(n)+y.bandwidth()/2};
    const a = walk(n[1]), b = walk(n[2]);
    const nx = hx(n[0]);
    paths.push(`M${a.x},${a.y}H${nx}V${b.y}H${b.x}`);
    return {x:nx, y:(a.y+b.y)/2};
  }
  walk(cfg.tree);
  g.selectAll("path.den").data(paths).join("path").attr("d",d=>d)
    .attr("fill","none").attr("stroke","#262626").attr("stroke-width",1.6);
  // colour legend
  const defs = svg.append("defs");
  const gid = "grad"+cfg.id;
  const grad = defs.append("linearGradient").attr("id",gid).attr("x1",0).attr("x2",0).attr("y1",0).attr("y2",1);
  const ly = d3.scaleLinear().domain([cfg.legMax, cfg.legMin]).range([cfg.legY0, cfg.legY1]);
  d3.range(0,1.0001,0.02).forEach(t=>{
    const v = cfg.legMax + (cfg.legMin-cfg.legMax)*t;
    grad.append("stop").attr("offset",t).attr("stop-color",color(v));
  });
  g.append("rect").attr("x",cfg.legX).attr("y",cfg.legY0).attr("width",cfg.legW).attr("height",cfg.legY1-cfg.legY0)
    .attr("fill",`url(#${gid})`);
  g.selectAll("text.tick").data(legendTicks).join("text")
    .attr("x",cfg.legX+cfg.legW+7).attr("y",d=>ly(d)).attr("dominant-baseline","central")
    .attr("font-size",19).text(d=> d<0 ? "−"+Math.abs(d) : String(d));
  // group legend
  g.append("text").attr("x",cfg.gX).attr("y",cfg.gTitleY).attr("dominant-baseline","central")
    .attr("font-size",20).attr("font-weight","bold").text("Group");
  const items = ["Ultrafiltrate", cfg.otherGroup];
  g.selectAll("rect.sw").data(items).join("rect")
    .attr("x",cfg.gX).attr("y",(d,i)=>cfg.gY0+i*cfg.gH).attr("width",cfg.gW).attr("height",cfg.gH)
    .attr("fill",d=>groupColor[d]).attr("stroke","#b0b0b0").attr("stroke-width",0.8);
  g.selectAll("text.sw").data(items).join("text")
    .attr("x",cfg.gX+cfg.gW+cfg.gGap).attr("y",(d,i)=>cfg.gY0+i*cfg.gH+cfg.gH/2-2).attr("dominant-baseline","central")
    .attr("font-size",cfg.gFont).text(d=>d);
  // panel tag
  svg.append("text").attr("x",cfg.tagX).attr("y",cfg.tagY).attr("font-size",30).attr("font-weight","bold")
    .attr("letter-spacing",2)
    .style("font-family","'Liberation Serif','Times New Roman',serif").text(cfg.tag);
}

panel({id:"A", tag:"(a)", tagX:3, tagY:28, uf:ufNames, other:preNames, otherGroup:"Pre-CRRT",
  rows:rowsA, ufVals:ufA, otherVals:preA, tree:treeA,
  x0:108.5, x1:1236.5, annY0:11, annY1:31, y0:36, y1:1080, dendX:7, labelX:1243,
  ufFont:18, otherFont:15.5,
  legX:1700, legW:19, legY0:12.6, legY1:303.6, legMax:4.1, legMin:-4.8,
  gX:1754, gW:29, gH:24, gY0:26, gTitleY:16, gGap:4, gFont:10.5});

panel({id:"B", tag:"(b)", tagX:3, tagY:1234, uf:ufNames, other:postNames, otherGroup:"Post-CRRT",
  rows:rowsB, ufVals:ufB, otherVals:postB, tree:treeB,
  x0:103.5, x1:1225.5, annY0:1223, annY1:1244, y0:1248, y1:2370, dendX:3, labelX:1233,
  ufFont:17.5, otherFont:14.5,
  legX:1687, legW:18, legY0:1222, legY1:1515, legMax:4.15, legMin:-4.8,
  gX:1742, gW:27, gH:22, gY0:1243, gTitleY:1228, gGap:5, gFont:11.5});
</script></body></html>
